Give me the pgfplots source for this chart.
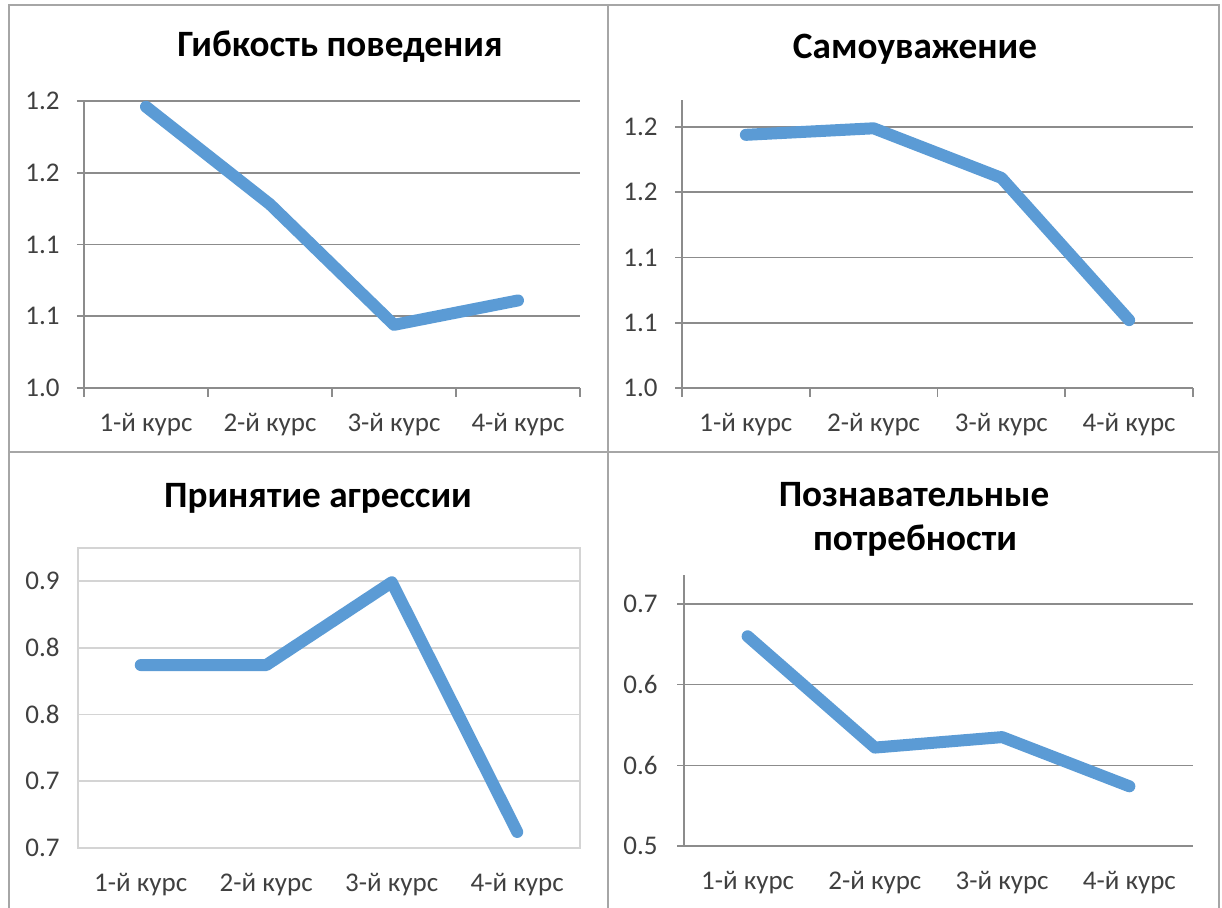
\documentclass[border=0pt]{standalone}
\usepackage{fontspec}
\setmainfont{Carlito}
\usepackage{pgfplots}
\pgfplotsset{compat=1.18}

\definecolor{xlblue}{HTML}{5B9BD5}
\definecolor{gridgray}{HTML}{8C8C8C}
\definecolor{lightgrid}{HTML}{D4D4D4}
\definecolor{labelgray}{HTML}{404040}
\definecolor{framegray}{HTML}{A6A6A6}

\pgfplotsset{
  panel/.style={
    scale only axis,
    anchor=south west,
    xmin=0.5, xmax=4.5,
    xtick={1,2,3,4},
    xticklabels={1-й курс,2-й курс,3-й курс,4-й курс},
    major x tick style={draw=none},
    ymajorgrids,
    grid style={line width=0.8pt, draw=gridgray},
    axis x line*=bottom, axis y line*=left,
    axis line style={line width=0.8pt, draw=gridgray, -},
    tick align=outside,
    major tick length=3.5pt,
    minor tick length=4.5pt,
    every tick/.style={line width=0.8pt, draw=gridgray},
    ticklabel style={font=\fontsize{13.5}{15}\selectfont, text=labelgray, inner sep=0pt},
    yticklabel style={anchor=east, xshift=-8.5pt},
    xticklabel style={anchor=base, yshift=-18.5pt},
    clip=false,
  },
  series/.style={line width=6pt, color=xlblue, line cap=round, line join=round, mark=none},
}
\tikzset{ttl/.style={font=\fontsize{18.6}{22}\selectfont\bfseries, anchor=base, inner sep=0pt}}

\begin{document}
\begin{tikzpicture}
\path[use as bounding box] (0,0) rectangle (611pt,454pt);

% frames round the four charts
\draw[framegray, line width=1pt]
  (4.5pt,0) -- (4.5pt,451.5pt) -- (609.5pt,451.5pt) -- (609.5pt,0)
  (304pt,0) -- (304pt,451.5pt)
  (4.5pt,228pt) -- (609.5pt,228pt);

% titles
\node[ttl] at (170pt,425.5pt) {Гибкость поведения};
\node[ttl] at (457.5pt,424.5pt) {Самоуважение};
\node[ttl] at (159pt,200pt) {Принятие агрессии};
\node[ttl] at (457pt,200.5pt) {Познавательные};
\node[ttl] at (457.5pt,178.7pt) {потребности};

% top left
\begin{axis}[panel,
  at={(42pt,260pt)}, width=248pt, height=143.5pt,
  ymin=1.0, ymax=1.2,
  ytick={1.0,1.05,1.1,1.15,1.2},
  yticklabels={1.0,1.1,1.1,1.2,1.2},
  minor xtick={0.5,1.5,2.5,3.5,4.5},
]
\addplot[series] coordinates {(1,1.196) (2,1.128) (3,1.044) (4,1.061)};
\end{axis}

% top right
\begin{axis}[panel,
  at={(341pt,260pt)}, width=255.5pt, height=144pt,
  ymin=1.0, ymax=1.2207,
  ytick={1.0,1.05,1.1,1.15,1.2},
  yticklabels={1.0,1.1,1.1,1.2,1.2},
  minor xtick={0.5,1.5,2.5,3.5,4.5},
]
\addplot[series] coordinates {(1,1.194) (2,1.199) (3,1.161) (4,1.052)};
\end{axis}

% bottom left: light plot-area frame, no ticks
\begin{axis}[panel,
  at={(39pt,30pt)}, width=251pt, height=150pt,
  axis line style={line width=0.8pt, draw=lightgrid},
  grid style={line width=0.8pt, draw=lightgrid},
  every tick/.style={draw=none},
  yticklabel style={xshift=3pt},
  ymin=0.7, ymax=0.9247,
  ytick={0.7,0.75,0.8,0.85,0.9},
  yticklabels={0.7,0.7,0.8,0.8,0.9},
]
\draw[lightgrid, line width=0.8pt] (rel axis cs:0,0) rectangle (rel axis cs:1,1);
\addplot[series] coordinates {(1,0.837) (2,0.837) (3,0.899) (4,0.712)};
\end{axis}

% bottom right
\begin{axis}[panel,
  at={(342pt,31pt)}, width=254.5pt, height=135.5pt,
  yticklabel style={xshift=-1pt},
  ymin=0.5, ymax=0.668,
  ytick={0.5,0.55,0.6,0.65},
  yticklabels={0.5,0.6,0.6,0.7},
]
\addplot[series] coordinates {(1,0.630) (2,0.561) (3,0.5675) (4,0.537)};
\end{axis}
\end{tikzpicture}
\end{document}
